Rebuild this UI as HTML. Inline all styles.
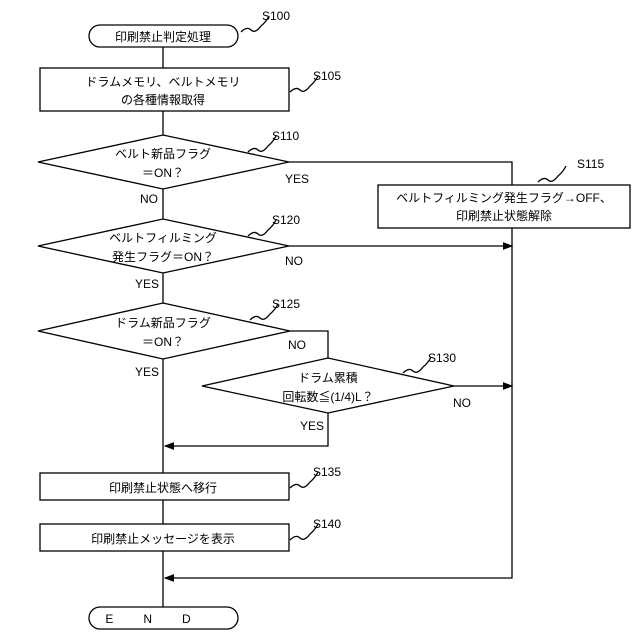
<!DOCTYPE html>
<html><head><meta charset="utf-8"><style>body{margin:0;background:#fff}svg{display:block}text{font-family:"Liberation Sans","Noto Sans CJK JP",sans-serif;font-size:12px;fill:#000}</style></head><body>
<svg width="640" height="640" viewBox="0 0 640 640" xmlns="http://www.w3.org/2000/svg">
<defs><marker id="a" markerWidth="8" markerHeight="6" refX="7" refY="3" orient="auto"><path d="M0,0L8,3L0,6z" fill="#000"/></marker></defs>
<g fill="none" stroke="#000" stroke-width="1.3">
<rect x="89" y="25" width="149" height="22" rx="11"/>
<rect x="40" y="68" width="249" height="43"/>
<polygon points="38,162 163,135 289,162 163,189"/>
<rect x="378" y="185" width="252" height="43"/>
<polygon points="38,246 163,219 289,246 163,273"/>
<polygon points="38,331 163,303 290,331 163,359"/>
<polygon points="202,386 328,358 454,386 328,413"/>
<rect x="40" y="473" width="249" height="27"/>
<rect x="40" y="524" width="249" height="27"/>
<rect x="89" y="607" width="149" height="22" rx="11"/>
<path d="M163,47V68M163,111V135M163,189V219M163,273V303M163,359V473M163,500V524M163,551V607"/>
<path d="M289,162H512V185"/>
<path d="M289,246H512" marker-end="url(#a)"/>
<path d="M512,228V578H165" marker-end="url(#a)"/>
<path d="M290,331H328V358"/>
<path d="M454,386H512" marker-end="url(#a)"/>
<path d="M328,413V446H165" marker-end="url(#a)"/>
<path d="M241,32q6,-6 10,-2t10,-4q5,-4 8,-10M290,92q6,-6 10,-2t10,-4q5,-4 8,-10M248,152q6,-6 10,-2t10,-4q5,-4 8,-10M248,236q6,-6 10,-2t10,-4q5,-4 8,-10M250,320q6,-6 10,-2t10,-4q5,-4 8,-10M403,373q6,-6 10,-2t10,-4q5,-4 8,-10M290,488q6,-6 10,-2t10,-4q5,-4 8,-10M290,540q6,-6 10,-2t10,-4q5,-4 8,-10M538,182q6,-6 10,-2t10,-4q5,-4 8,-10"/>
</g>
<g text-anchor="middle">
<text x="163" y="41">印刷禁止判定処理</text>
<text x="163" y="86">ドラムメモリ、ベルトメモリ</text>
<text x="163" y="104">の各種情報取得</text>
<text x="163" y="158">ベルト新品フラグ</text>
<text x="163" y="177">＝ON？</text>
<text x="504" y="202">ベルトフィルミング発生フラグ→OFF、</text>
<text x="504" y="220">印刷禁止状態解除</text>
<text x="163" y="242">ベルトフィルミング</text>
<text x="163" y="261">発生フラグ＝ON？</text>
<text x="163" y="327">ドラム新品フラグ</text>
<text x="163" y="346">＝ON？</text>
<text x="328" y="382">ドラム累積</text>
<text x="328" y="401">回転数≦(1/4)L？</text>
<text x="163" y="492">印刷禁止状態へ移行</text>
<text x="163" y="543">印刷禁止メッセージを表示</text>
<text x="163" y="623" letter-spacing="30">END</text>
</g>
<g>
<text x="262" y="20">S100</text>
<text x="313" y="80">S105</text>
<text x="272" y="140">S110</text>
<text x="577" y="168">S115</text>
<text x="272" y="224">S120</text>
<text x="272" y="308">S125</text>
<text x="428" y="362">S130</text>
<text x="313" y="476">S135</text>
<text x="313" y="528">S140</text>
<text x="285" y="183">YES</text>
<text x="140" y="203">NO</text>
<text x="285" y="265">NO</text>
<text x="135" y="288">YES</text>
<text x="288" y="349">NO</text>
<text x="135" y="376">YES</text>
<text x="453" y="407">NO</text>
<text x="300" y="430">YES</text>
</g>
</svg>
</body></html>
